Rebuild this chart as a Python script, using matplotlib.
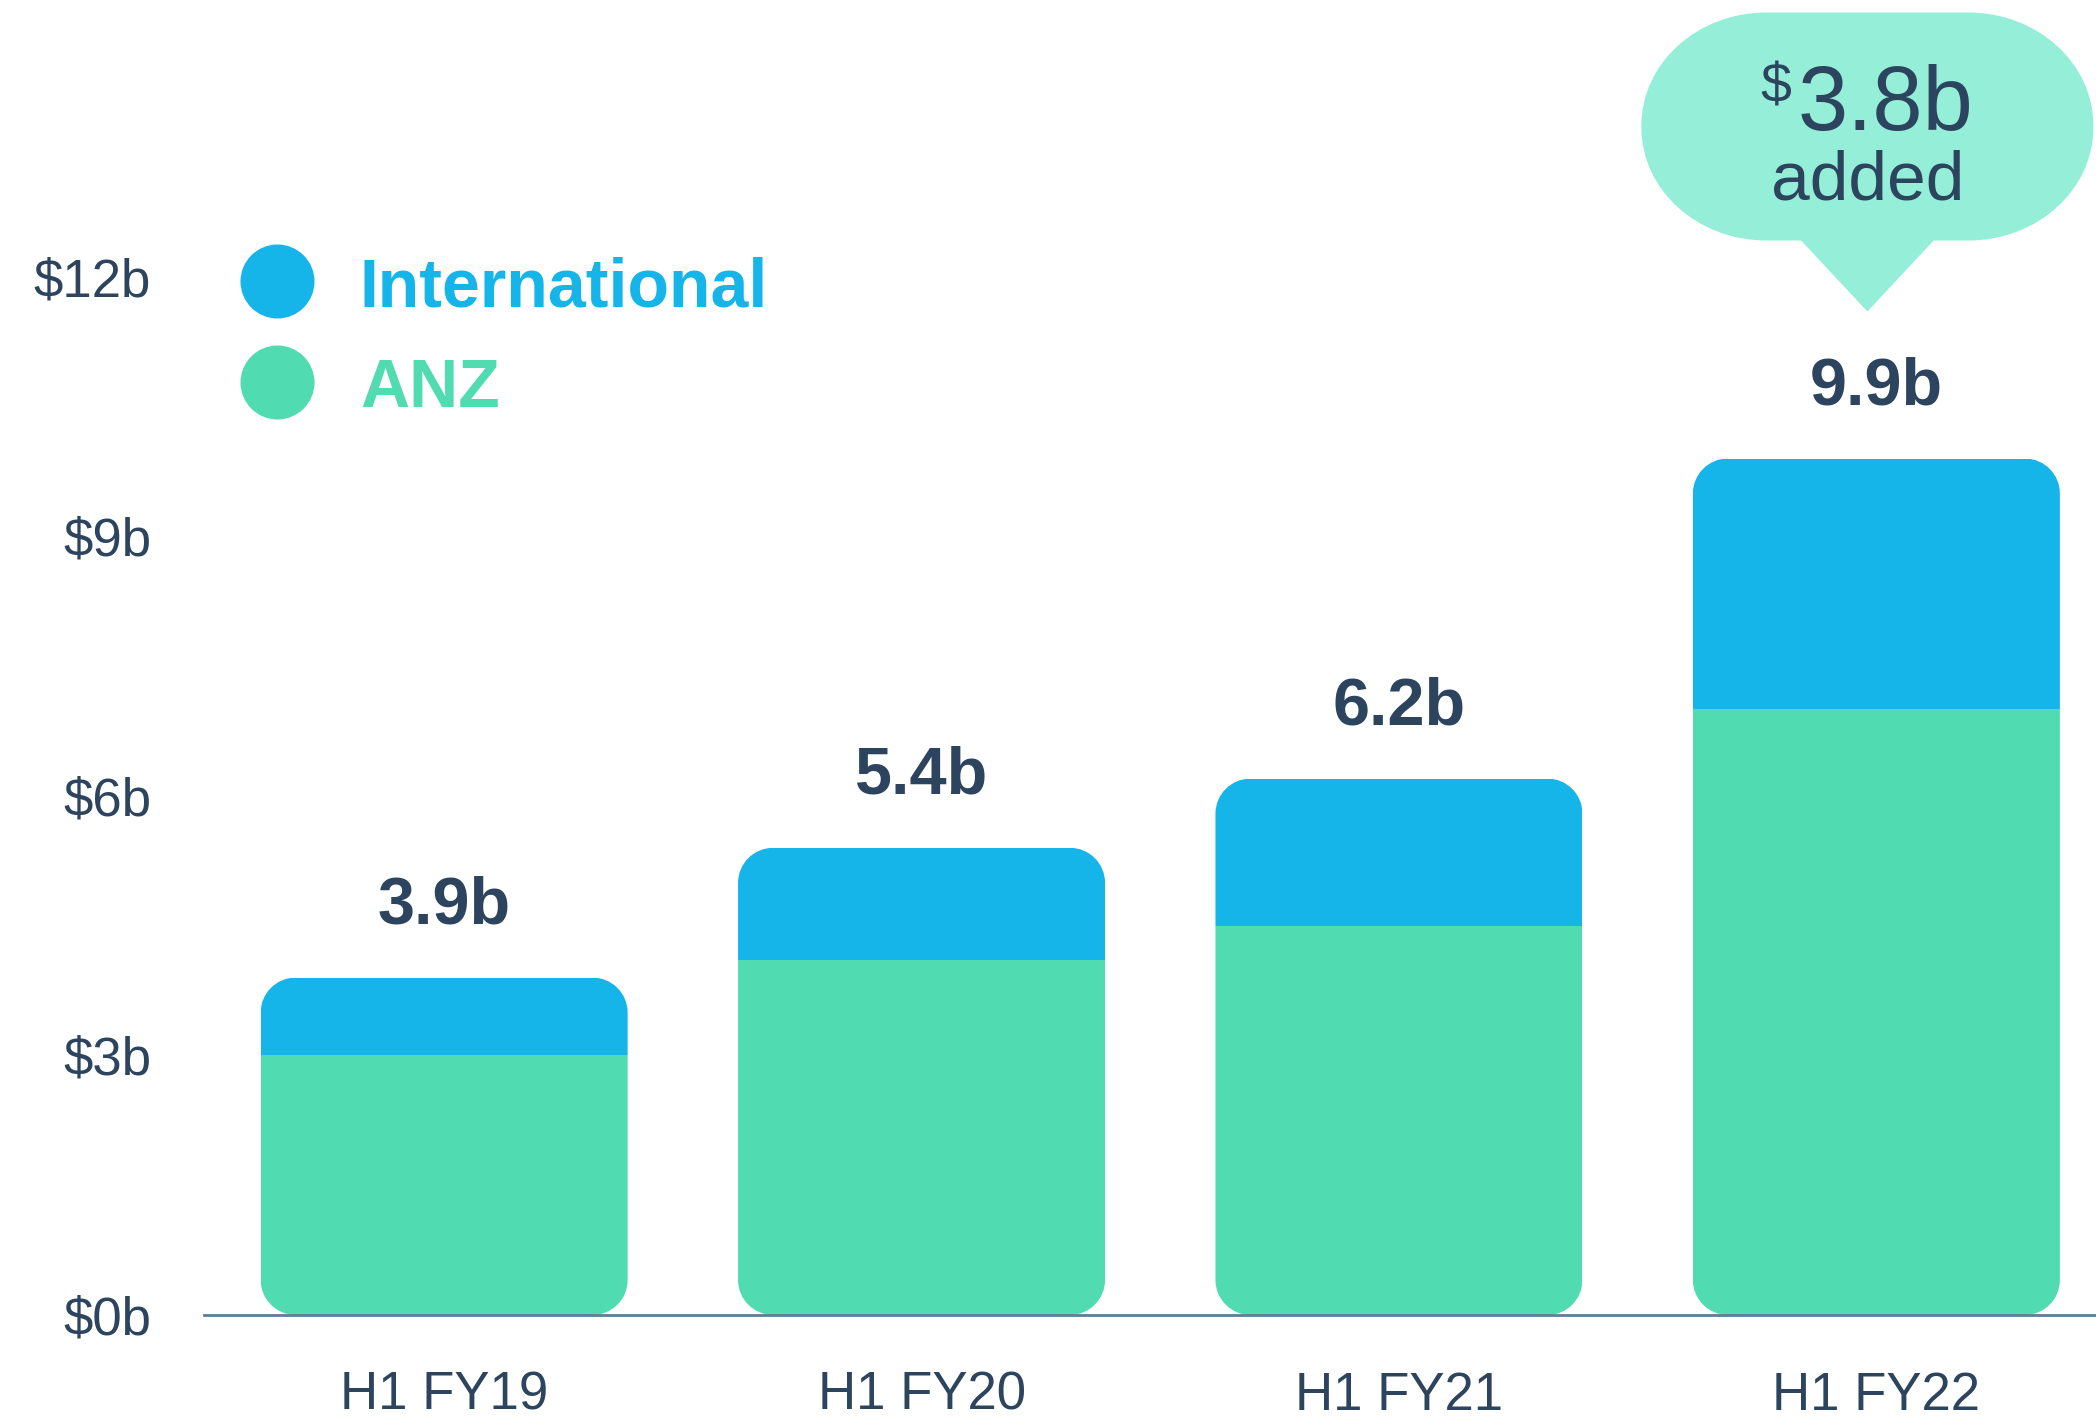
import matplotlib
matplotlib.use("Agg")
import matplotlib.pyplot as plt
from matplotlib.patches import PathPatch, Polygon
from matplotlib.path import Path

# ---------------------------------------------------------------- data
periods = ["H1 FY19", "H1 FY20", "H1 FY21", "H1 FY22"]
anz = [3.0, 4.1, 4.5, 7.0]
international = [0.9, 1.3, 1.7, 2.9]
total_labels = ["3.9b", "5.4b", "6.2b", "9.9b"]
y_ticks = [0, 3, 6, 9, 12]
y_tick_labels = ["$0b", "$3b", "$6b", "$9b", "$12b"]
series_names = ["International", "ANZ"]
added_value = "3.8b"
added_text = "added"

# ---------------------------------------------------------------- style
BLUE = "#15b5ea"
GREEN = "#51dbb0"
MINT = "#95eed7"
NAVY = "#2c445d"
AXIS = "#5c7d9b"
FONT = "Liberation Sans"

plt.rcParams["font.family"] = [FONT, "DejaVu Sans"]

W, H, DPI = 2096, 1420, 100
fig = plt.figure(figsize=(W / DPI, H / DPI), dpi=DPI, facecolor="white")

# axes box in pixels: left edge at 204, baseline at 1315 from top
ax_left, ax_base = 204, 1315
ax = fig.add_axes([ax_left / W, (H - ax_base) / H, 1 - ax_left / W, ax_base / H])
xlim = (-0.503, 3.46)
ylim = (0, 15.2)
ax.set_xlim(*xlim)
ax.set_ylim(*ylim)
ax.patch.set_alpha(0)

# pixel -> data helpers
px_x = (W - ax_left) / (xlim[1] - xlim[0])
px_y = ax_base / (ylim[1] - ylim[0])


def dx(p):
    return p / px_x


def dy(p):
    return p / px_y


def rounded_path(x0, y0, w, h, rx, ry):
    """Rounded rectangle with elliptical (cubic) corners, data units."""
    k = 0.5523
    x1, y1 = x0 + w, y0 + h
    verts = [
        (x0 + rx, y0), (x1 - rx, y0),
        (x1 - rx + k * rx, y0), (x1, y0 + ry - k * ry), (x1, y0 + ry),
        (x1, y1 - ry),
        (x1, y1 - ry + k * ry), (x1 - rx + k * rx, y1), (x1 - rx, y1),
        (x0 + rx, y1),
        (x0 + rx - k * rx, y1), (x0, y1 - ry + k * ry), (x0, y1 - ry),
        (x0, y0 + ry),
        (x0, y0 + ry - k * ry), (x0 + rx - k * rx, y0), (x0 + rx, y0),
        (x0 + rx, y0),
    ]
    codes = ([Path.MOVETO, Path.LINETO] + [Path.CURVE4] * 3 + [Path.LINETO]
             + [Path.CURVE4] * 3 + [Path.LINETO] + [Path.CURVE4] * 3
             + [Path.LINETO] + [Path.CURVE4] * 3 + [Path.CLOSEPOLY])
    return Path(verts, codes)


bar_w = dx(367)
x = list(range(len(periods)))
totals = [a + b for a, b in zip(anz, international)]

# ---------------------------------------------------------------- bars
anz_bars = ax.bar(x, anz, width=bar_w, color=GREEN, lw=0)
int_bars = ax.bar(x, international, width=bar_w, bottom=anz, color=BLUE, lw=0)
for i, total in enumerate(totals):
    clip = PathPatch(rounded_path(i - bar_w / 2, 0, bar_w, total, dx(35), dy(35)),
                     transform=ax.transData)
    anz_bars[i].set_clip_path(clip)
    int_bars[i].set_clip_path(clip)
    ax.annotate(total_labels[i], (i, total), xytext=(0, 39),
                textcoords="offset points", ha="center", va="baseline",
                fontsize=48, fontweight="bold", color=NAVY)

# ---------------------------------------------------------------- axes
ax.set_xticks(x, periods)
ax.set_yticks(y_ticks, y_tick_labels)
ax.tick_params(axis="both", length=0, labelsize=38, labelcolor=NAVY)
ax.tick_params(axis="y", pad=38)
ax.tick_params(axis="x", pad=40)
for side in ["top", "right", "left"]:
    ax.spines[side].set_visible(False)
ax.spines["bottom"].set_color(AXIS)
ax.spines["bottom"].set_linewidth(2)

# ---------------------------------------------------------------- legend
leg_x = xlim[0] + dx(277 - ax_left)
leg_tx = xlim[0] + dx(360 - ax_left)
for name, col, cy, base in zip(series_names, [BLUE, GREEN], [281, 382], [306, 407]):
    ax.scatter([leg_x], [dy(ax_base - cy)], s=53.3 ** 2, color=col, lw=0,
               clip_on=False)
    ax.text(leg_tx, dy(ax_base - base), name, color=col, fontsize=49,
            fontweight="bold", ha="left", va="baseline")

# ---------------------------------------------------------------- callout
last = len(periods) - 1
top4 = totals[last]
bx = last - dx(9)
b_w, b_h = dx(452), dy(228)
b_bottom = top4 + dy(218)
ax.add_patch(PathPatch(rounded_path(bx - b_w / 2, b_bottom, b_w, b_h,
                                    dx(125), dy(113)),
                       fc=MINT, lw=0, clip_on=False))
ax.add_patch(Polygon([(bx - dx(70), b_bottom + dy(4)), (bx + dx(70), b_bottom + dy(4)),
                      (bx, top4 + dy(147))], closed=True, fc=MINT, lw=0,
                     clip_on=False))
ax.text(bx - dx(70), b_bottom + dy(111), added_value, fontsize=65, color=NAVY,
        ha="left", va="baseline")
ax.text(bx - dx(76), b_bottom + dy(138), "$", fontsize=40, color=NAVY,
        ha="right", va="baseline")
ax.text(bx, b_bottom + dy(41), added_text, fontsize=50, color=NAVY,
        ha="center", va="baseline")

fig.savefig("out.png", dpi=DPI, facecolor="white")
